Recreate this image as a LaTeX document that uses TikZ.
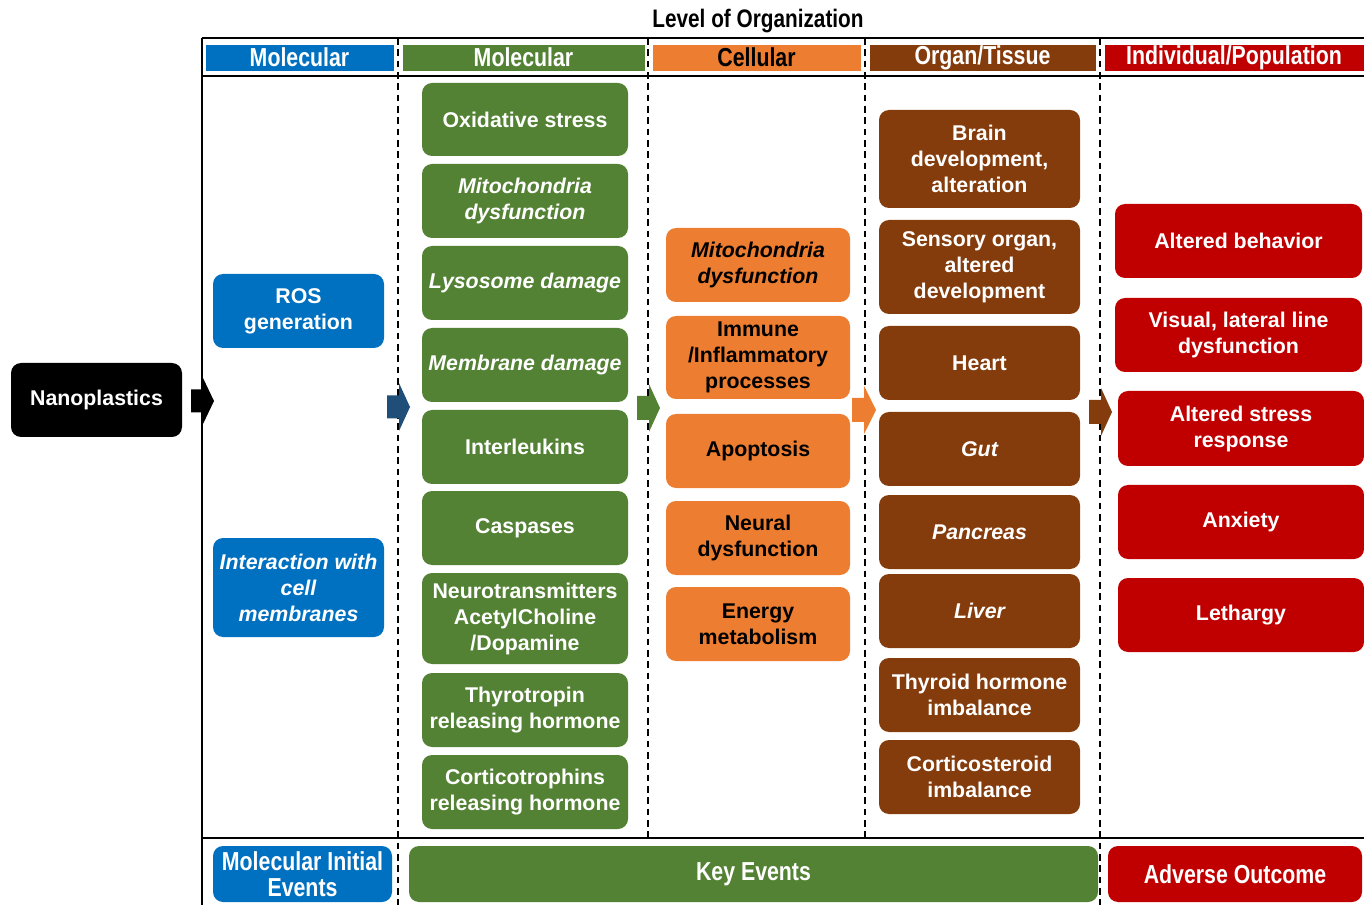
\documentclass[tikz,border=0pt]{standalone}
\usepackage{fontspec}
\setmainfont{Liberation Sans}
\newfontfamily\narrowf[FakeStretch=0.82]{Liberation Sans}
\definecolor{cblue}{HTML}{0070C0}
\definecolor{cgreen}{HTML}{548235}
\definecolor{corange}{HTML}{ED7D31}
\definecolor{cbrown}{HTML}{843C0C}
\definecolor{cred}{HTML}{C00000}
\definecolor{carrowblue}{HTML}{1F4E79}
\newcommand\blockarr[7]{%
  \fill[#7] (#1,#4-#5) -- (#2,#4-#5) -- (#2,#4-#6) -- (#3,#4) -- (#2,#4+#6) -- (#2,#4+#5) -- (#1,#4+#5) -- cycle;}
\newcommand\bnode[7]{%
  \node[#2, minimum width={(#5-#3)*0.75pt}, minimum height={(#6-#4)*0.75pt}]
    (#1) at ({(#3+#5)/2},{(#4+#6)/2}) {#7};}
\begin{document}
\begin{tikzpicture}[x=0.75pt,y=-0.75pt,
  box/.style={rounded corners=7.5pt, inner sep=0pt, align=center,
    font=\bfseries\fontsize{16}{19.5}\selectfont, text=white},
  itbox/.style={box, font=\bfseries\itshape\fontsize{16}{19.5}\selectfont},
  hdr/.style={inner sep=0pt, align=center, draw=white, line width=0.6pt,
    font=\narrowf\bfseries\fontsize{19.5}{22}\selectfont, text=white},
  foot/.style={box, font=\narrowf\bfseries\fontsize{19.5}{19.5}\selectfont},
  frame/.style={line width=1.6pt},
  divider/.style={dash pattern=on 5pt off 3.5pt, line width=1pt},
]
\useasboundingbox (0,0) rectangle (1364,905);

% title
\node[font=\narrowf\bfseries\fontsize{19}{22}\selectfont] (title) at (758,21) {Level of Organization};

% frame lines
\draw[frame] (202,38) -- (1364,38);
\draw[frame] (202,76) -- (1364,76);
\draw[frame] (202,838) -- (1364,838);
\draw[frame] (202,38) -- (202,905);
\draw[divider] (398,38) -- (398,905);
\draw[divider] (648,38) -- (648,838);
\draw[divider] (865,38) -- (865,838);
\draw[divider] (1100,38) -- (1100,905);

% header
\bnode{hmb}{hdr, fill=cblue}{205}{44}{394}{71}{Molecular}
\bnode{hmg}{hdr, fill=cgreen}{402}{44}{645}{71}{Molecular}
\bnode{hcl}{hdr, fill=corange, text=black}{652}{44}{861}{71}{Cellular}
\bnode{hor}{hdr, fill=cbrown}{869}{44}{1096}{71}{Organ/Tissue}
\bnode{hin}{hdr, fill=cred}{1104}{44}{1364}{71}{Individual/Population}

% start
\bnode{nano}{box, fill=black}{11}{363}{182}{437}{Nanoplastics}

% molecular initiating
\bnode{ros}{box, fill=cblue}{213}{274}{384}{348}{ROS\\generation}
\bnode{icm}{itbox, fill=cblue}{213}{538}{384}{637}{Interaction with\\cell\\membranes}

% molecular key events
\bnode{g1}{box, fill=cgreen}{422}{83}{628}{156}{Oxidative stress}
\bnode{g2}{itbox, fill=cgreen}{422}{164}{628}{238}{Mitochondria\\dysfunction}
\bnode{g3}{itbox, fill=cgreen}{422}{246}{628}{320}{Lysosome damage}
\bnode{g4}{itbox, fill=cgreen}{422}{328}{628}{402}{Membrane damage}
\bnode{g5}{box, fill=cgreen}{422}{410}{628}{484}{Interleukins}
\bnode{g6}{box, fill=cgreen}{422}{491}{628}{565}{Caspases}
\bnode{g7}{box, fill=cgreen}{422}{573}{628}{664}{Neurotransmitters\\AcetylCholine\\/Dopamine}
\bnode{g8}{box, fill=cgreen}{422}{673}{628}{747}{Thyrotropin\\releasing hormone}
\bnode{g9}{box, fill=cgreen}{422}{755}{628}{829}{Corticotrophins\\releasing hormone}

% cellular
\bnode{o1}{itbox, fill=corange, text=black}{666}{228}{850}{302}{Mitochondria\\dysfunction}
\bnode{o2}{box, fill=corange, text=black}{666}{316}{850}{399}{Immune\\/Inflammatory\\processes}
\bnode{o3}{box, fill=corange, text=black}{666}{414}{850}{488}{Apoptosis}
\bnode{o4}{box, fill=corange, text=black}{666}{501}{850}{575}{Neural\\dysfunction}
\bnode{o5}{box, fill=corange, text=black}{666}{587}{850}{661}{Energy\\metabolism}

% organ / tissue
\bnode{b1}{box, fill=cbrown}{879}{110}{1080}{208}{Brain\\development,\\alteration}
\bnode{b2}{box, fill=cbrown}{879}{220}{1080}{314}{Sensory organ,\\altered\\development}
\bnode{b3}{box, fill=cbrown}{879}{326}{1080}{400}{Heart}
\bnode{b4}{itbox, fill=cbrown}{879}{412}{1080}{486}{Gut}
\bnode{b5}{itbox, fill=cbrown}{879}{495}{1080}{569}{Pancreas}
\bnode{b6}{itbox, fill=cbrown}{879}{574}{1080}{648}{Liver}
\bnode{b7}{box, fill=cbrown}{879}{658}{1080}{732}{Thyroid hormone\\imbalance}
\bnode{b8}{box, fill=cbrown}{879}{740}{1080}{814}{Corticosteroid\\imbalance}

% individual / population
\bnode{r1}{box, fill=cred}{1115}{204}{1362}{278}{Altered behavior}
\bnode{r2}{box, fill=cred}{1115}{298}{1362}{372}{Visual, lateral line\\dysfunction}
\bnode{r3}{box, fill=cred}{1118}{391}{1364}{466}{Altered stress\\response}
\bnode{r4}{box, fill=cred}{1118}{485}{1364}{559}{Anxiety}
\bnode{r5}{box, fill=cred}{1118}{578}{1364}{652}{Lethargy}

% footer
\bnode{mie}{foot, fill=cblue}{213}{846}{392}{902}{Molecular Initial\\Events}
\bnode{kev}{foot, fill=cgreen}{409}{846}{1098}{902}{Key Events}
\bnode{aout}{foot, fill=cred}{1108}{846}{1362}{902}{Adverse Outcome}

% block arrows
\blockarr{191}{203}{214}{401}{11.5}{23}{black}
\blockarr{387}{399}{410}{407}{11.5}{24}{carrowblue}
\blockarr{637}{649}{660}{408}{12}{24}{cgreen}
\blockarr{852}{864}{876}{410}{12}{24}{corange}
\blockarr{1089}{1101}{1112}{412}{12}{24}{cbrown}
\end{tikzpicture}
\end{document}
